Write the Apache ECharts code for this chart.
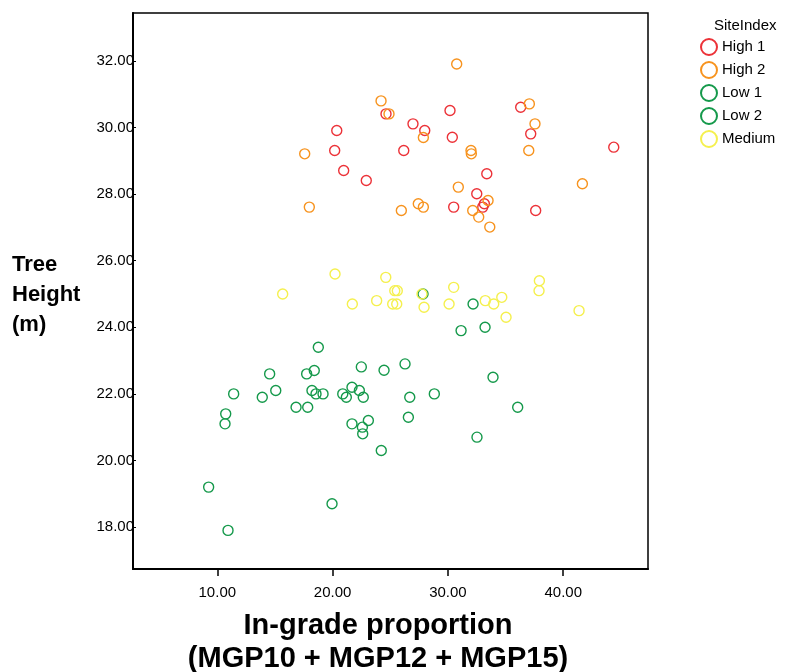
<!DOCTYPE html>
<html>
<head>
<meta charset="utf-8">
<script src="https://cdn.jsdelivr.net/npm/echarts@6/dist/echarts.min.js"></script>
<style>html,body{margin:0;padding:0;background:#fff}#c{width:791px;height:672px}</style>
</head>
<body>
<div id="c"></div>
<script>
const seriesNames = ['High 1', 'High 2', 'Low 1', 'Low 2', 'Medium'];
const high1 = [[24.63,30.41],[20.36,29.91],[20.18,29.31],[20.96,28.71],[22.92,28.41],[30.18,30.51],[26.97,30.11],[27.99,29.91],[30.38,29.71],[26.17,29.31],[36.31,30.61],[37.18,29.81],[44.38,29.41],[33.37,28.61],[32.50,28.01],[33.16,27.71],[33.02,27.61],[30.50,27.61],[37.61,27.51]];
const high2 = [[24.20,30.80],[24.89,30.41],[17.58,29.21],[17.98,27.61],[30.76,31.91],[27.87,29.70],[37.06,30.71],[37.55,30.11],[37.01,29.31],[32.00,29.31],[32.03,29.21],[30.90,28.21],[41.66,28.31],[33.48,27.81],[27.43,27.71],[27.87,27.61],[25.96,27.51],[32.15,27.51],[32.67,27.31],[33.63,27.01]];
const low1 = [[27.84,25.00],[32.18,24.70],[31.14,23.90],[33.22,24.00],[18.76,23.40],[14.54,22.60],[17.75,22.60],[18.41,22.70],[22.49,22.81],[24.46,22.71],[26.28,22.90],[33.91,22.50],[11.42,22.00],[13.90,21.90],[15.07,22.10],[18.21,22.10],[18.56,22.00],[19.17,22.00],[20.88,22.00],[21.19,21.90]];
const low2 = [[21.68,22.20],[22.32,22.10],[22.66,21.90],[26.69,21.90],[28.82,22.00],[16.83,21.60],[17.84,21.60],[36.05,21.60],[10.73,21.40],[10.67,21.10],[21.68,21.10],[22.58,21.00],[23.10,21.20],[22.61,20.80],[26.57,21.30],[32.52,20.70],[24.22,20.30],[9.25,19.20],[19.95,18.70],[10.93,17.90]];
const medium = [[20.21,25.60],[24.61,25.50],[15.67,25.00],[21.71,24.70],[23.82,24.80],[25.21,24.70],[25.56,24.70],[25.39,25.10],[25.61,25.10],[27.75,25.00],[30.50,25.20],[27.93,24.60],[30.10,24.70],[33.24,24.80],[33.97,24.70],[34.67,24.90],[37.93,25.40],[37.90,25.10],[41.37,24.50],[35.04,24.30]];
const xTicks = [10, 20, 30, 40];
const yTicks = [18, 20, 22, 24, 26, 28, 30, 32];

const colors = ['#ec3238', '#f7931e', '#15994b', '#15994b', '#f5f04e'];
const dataSets = [high1, high2, low1, low2, medium];
const font = 'Liberation Sans, Arial, Helvetica, sans-serif';

const chart = echarts.init(document.getElementById('c'));
chart.setOption({
  animation: false,
  backgroundColor: '#fff',
  grid: {left: 133, right: 143, top: 13, bottom: 103, show: true, borderColor: '#000', borderWidth: 1.5, backgroundColor: 'transparent'},
  xAxis: {
    type: 'value', min: 2.69, max: 47.35,
    axisLine: {show: true, lineStyle: {color: '#000', width: 2}},
    axisTick: {show: true, length: 7, lineStyle: {color: '#000', width: 1.5}, customValues: xTicks},
    axisLabel: {color: '#000', fontSize: 15, fontFamily: font, margin: 16, customValues: xTicks, formatter: v => v.toFixed(2)},
    splitLine: {show: false}
  },
  yAxis: {
    type: 'value', min: 16.74, max: 33.44,
    axisLine: {show: true, lineStyle: {color: '#000', width: 2}},
    axisTick: {show: true, inside: true, length: 3, lineStyle: {color: '#000', width: 1}, customValues: yTicks},
    axisLabel: {color: '#000', fontSize: 15, fontFamily: font, margin: -1, customValues: yTicks, formatter: v => v.toFixed(2)},
    splitLine: {show: false}
  },
  legend: {
    orient: 'vertical', left: 695, top: 33, itemGap: 5, itemWidth: 16, itemHeight: 16,
    data: seriesNames,
    textStyle: {color: '#000', fontSize: 15, fontFamily: font}
  },
  title: {
    text: 'SiteIndex', left: 709, top: 13,
    textStyle: {color: '#000', fontSize: 15, fontWeight: 'normal', fontFamily: font}
  },
  graphic: [
    {type: 'text', left: 12, top: 250, style: {text: 'Tree\nHeight\n(m)', font: 'bold 22px ' + font, fill: '#000', lineHeight: 30}},
    {type: 'text', x: 378, y: 609, style: {text: 'In-grade proportion\n(MGP10 + MGP12 + MGP15)', font: 'bold 29px ' + font, fill: '#000', align: 'center', textAlign: 'center', lineHeight: 33}}
  ],
  series: seriesNames.map((n, i) => ({
    name: n, type: 'scatter', data: dataSets[i], symbol: 'circle', symbolSize: 10,
    itemStyle: {color: 'rgba(255,255,255,0)', borderColor: colors[i], borderWidth: 1.4, opacity: 1}
  }))
});
</script>
</body>
</html>
